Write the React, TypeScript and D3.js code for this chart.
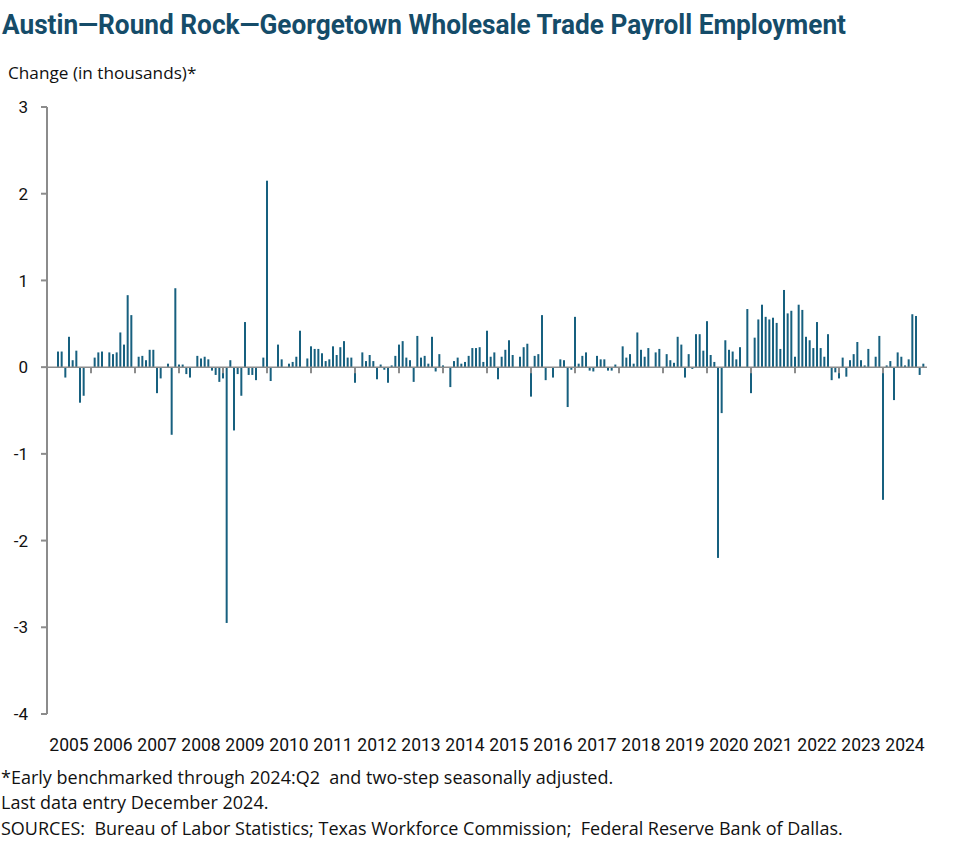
import React from "react";
import * as d3 from "d3";

// Monthly change in Austin–Round Rock–Georgetown wholesale trade payroll employment (thousands), Jan 2005 – Dec 2024
const change2005 = [0, 0, 0, 0.18, 0.18, -0.12, 0.35, 0.08, 0.19, -0.41, -0.33, 0];
const change2006 = [0, 0.11, 0.17, 0.18, 0, 0.17, 0.15, 0.17, 0.4, 0.26, 0.83, 0.6];
const change2007 = [0, 0.12, 0.13, 0.08, 0.2, 0.2, -0.3, -0.13, 0, 0.04, -0.78, 0.91];
const change2008 = [0.03, 0.03, -0.08, -0.12, 0, 0.13, 0.1, 0.12, 0.09, -0.04, -0.09, -0.17];
const change2009 = [-0.13, -2.95, 0.08, -0.73, -0.08, -0.33, 0.52, -0.09, -0.09, -0.15, 0, 0.11];
const change2010 = [2.15, -0.16, 0, 0.26, 0.09, 0, 0.04, 0.06, 0.12, 0.42, 0, 0.1];
const change2011 = [0.24, 0.21, 0.21, 0.16, 0.07, 0.09, 0.24, 0.14, 0.23, 0.3, 0.11, 0.11];
const change2012 = [-0.18, 0, 0.17, 0.07, 0.14, 0.07, -0.14, 0.03, -0.03, -0.18, 0.02, 0.13];
const change2013 = [0.26, 0.3, 0.11, 0.08, -0.17, 0.36, 0.11, 0.13, 0.04, 0.35, -0.05, 0.15];
const change2014 = [0.02, 0, -0.23, 0.07, 0.11, 0.04, 0.06, 0.13, 0.22, 0.22, 0.23, 0.06];
const change2015 = [0.42, 0.12, 0.17, -0.14, 0.12, 0.2, 0.31, 0.14, 0, 0.12, 0.23, 0.27];
const change2016 = [-0.34, 0.13, 0.15, 0.6, -0.15, 0, -0.12, 0, 0.09, 0.08, -0.46, -0.03];
const change2017 = [0.58, 0.04, 0.13, 0.17, -0.04, -0.05, 0.13, 0.09, 0.09, -0.04, -0.04, 0.03];
const change2018 = [0, 0.24, 0.11, 0.15, 0.04, 0.4, 0.2, 0.12, 0.22, 0, 0.17, 0.21];
const change2019 = [0, 0.15, 0.08, 0.05, 0.35, 0.26, -0.12, 0.15, -0.02, 0.38, 0.38, 0.19];
const change2020 = [0.53, 0.14, 0.06, -2.2, -0.53, 0.31, 0.2, 0.18, 0.09, 0.23, 0, 0.67];
const change2021 = [-0.3, 0.34, 0.55, 0.72, 0.58, 0.55, 0.57, 0.51, 0.21, 0.89, 0.62, 0.65];
const change2022 = [0.12, 0.72, 0.66, 0.35, 0.31, 0.22, 0.52, 0.22, 0.12, 0.38, -0.15, -0.06];
const change2023 = [-0.13, 0.11, -0.11, 0.08, 0.15, 0.29, 0.08, 0.02, 0.21, 0, 0.12, 0.36];
const change2024 = [-1.53, 0.02, 0.07, -0.38, 0.17, 0.12, 0.02, 0.09, 0.61, 0.59, -0.09, 0.04];

const years = [
  "2005", "2006", "2007", "2008", "2009", "2010", "2011", "2012", "2013", "2014",
  "2015", "2016", "2017", "2018", "2019", "2020", "2021", "2022", "2023", "2024",
];
const yTicks = [3, 2, 1, 0, -1, -2, -3, -4];

const monthly = [
  change2005, change2006, change2007, change2008, change2009, change2010, change2011,
  change2012, change2013, change2014, change2015, change2016, change2017, change2018,
  change2019, change2020, change2021, change2022, change2023, change2024,
].flat();

const W = 977;
const H = 864;
const BAR = "#17607f";
const AXIS = "#8c8c8c";
const FONT = "Roboto, 'Noto Sans', sans-serif";
const TEXT_FONT = "'Open Sans', Roboto, sans-serif";
const NB = "\u00A0";

export default function App() {
  const x = d3.scaleLinear().domain([0, monthly.length]).range([47, 927]);
  const y = d3.scaleLinear().domain([-4, 3]).range([714, 107]);
  const y0 = y(0);
  const yearX = d3.scaleBand().domain(years).range([47, 927]);

  return (
    <svg
      width={W}
      height={H}
      style={{ position: "absolute", left: 0, top: 0, background: "#fff" }}
      fontFamily={FONT}
    >
      <text x={2} y={34} fontSize={27} fontWeight={700} fill="#154c69" textLength={844} lengthAdjust="spacingAndGlyphs">
        Austin—Round Rock—Georgetown Wholesale Trade Payroll Employment
      </text>
      <text x={8} y={79} fontSize={17.2} fill="#111" fontFamily={TEXT_FONT}>Change (in thousands)*</text>

      {/* bars */}
      {monthly.map((v, j) =>
        v === 0 ? null : (
          <rect
            key={j}
            x={x(j) - 1}
            width={2}
            y={y(Math.max(0, v))}
            height={Math.abs(y(v) - y0)}
            fill={BAR}
          />
        )
      )}

      {/* zero line */}
      <line x1={47} x2={927} y1={y0} y2={y0} stroke={AXIS} strokeWidth={1.5} />
      {/* year ticks */}
      {d3.range(1, years.length).map((k) => (
        <line key={k} x1={x(12 * k)} x2={x(12 * k)} y1={y0} y2={y0 + 6} stroke={AXIS} strokeWidth={2} />
      ))}

      {/* y axis */}
      <line x1={47} x2={47} y1={y(3)} y2={y(-4)} stroke={AXIS} strokeWidth={2} />
      {yTicks.map((t) => (
        <g key={t}>
          <line x1={41} x2={47} y1={y(t)} y2={y(t)} stroke={AXIS} strokeWidth={2} />
          <text x={28} y={y(t)} dy="0.36em" textAnchor="end" fontSize={17} fill="#111">
            {t}
          </text>
        </g>
      ))}

      {/* x labels */}
      {years.map((yr) => (
        <text key={yr} x={(yearX(yr) ?? 0) + yearX.bandwidth() / 2} y={751} textAnchor="middle" fontSize={17.5} fill="#111">
          {yr}
        </text>
      ))}

      {/* footnotes */}
      <g fontFamily={TEXT_FONT} fontSize={18} fill="#111">
        <text x={1} y={784}>{`*Early benchmarked through 2024:Q2 ${NB}and two-step seasonally adjusted.`}</text>
        <text x={1} y={809}>Last data entry December 2024.</text>
        <text x={1} y={835}>{`SOURCES:${NB} Bureau of Labor Statistics; Texas Workforce Commission;${NB} Federal Reserve Bank of Dallas.`}</text>
      </g>
    </svg>
  );
}
